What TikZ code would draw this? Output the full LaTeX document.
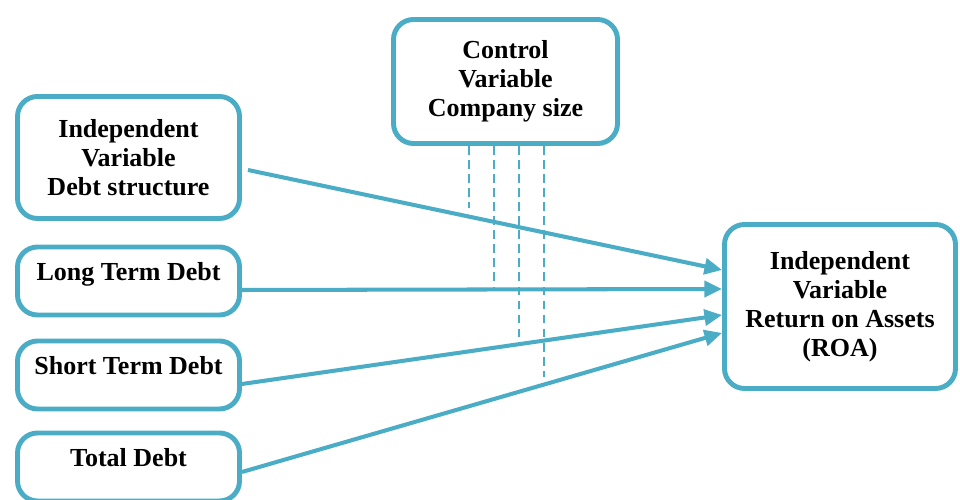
\documentclass[tikz,border=0pt]{standalone}
\usepackage{fontspec}
\setmainfont{Liberation Serif}
\usetikzlibrary{arrows.meta}
\definecolor{accentblue}{HTML}{4BACC6}

\begin{document}
\begin{tikzpicture}[auto,
    varbox/.style ={draw=accentblue, line width=2.8pt, rounded corners=0.4cm,
      align=center, font=\fontsize{14.8}{16.5}\selectfont\bfseries},
    single/.style ={varbox, minimum width=4.44cm, minimum height=1.36cm,
      text height=0.35cm, text depth=0.37cm},
    link/.style ={draw=accentblue, line width=2.3pt,
      -{Triangle[length=10pt,width=9pt]}},
    ctrldash/.style ={draw=accentblue, line width=0.8pt, dash pattern=on 5pt off 3pt}]
   \useasboundingbox (0,0) rectangle (19.2,10);
   \node[varbox, minimum width=4.48cm, minimum height=2.48cm] (ctrl) at (10.11,8.37)
     {Control\\Variable\\Company size};
   \node[varbox, minimum width=4.44cm, minimum height=2.44cm] (dsv) at (2.57,6.85)
     {Independent\\Variable\\Debt structure};
   \node[single] (ltd) at (2.57,4.38) {Long Term Debt};
   \node[single] (std) at (2.57,2.50) {Short Term Debt};
   \node[single] (tdb) at (2.57,0.66) {Total Debt};
   \node[varbox, minimum width=4.62cm, minimum height=3.28cm] (roa) at (16.80,3.87)
     {Independent\\Variable\\Return on Assets\\(ROA)};

   \coordinate (c1) at (9.38,5.84);
   \coordinate (c2) at (9.88,4.26);
   \coordinate (c3) at (10.38,3.20);
   \coordinate (c4) at (10.88,2.46);

   \draw[ctrldash] (ctrl.south -| c1) to (c1);
   \draw[ctrldash] (ctrl.south -| c2) to (c2);
   \draw[ctrldash] (ctrl.south -| c3) to (c3);
   \draw[ctrldash] (ctrl.south -| c4) to (c4);

   \draw[link] ([xshift=0.12cm,yshift=-0.25cm]dsv.east) to ([yshift=0.73cm]roa.west);
   \draw[link] ([yshift=-0.18cm]ltd.east) to ([yshift=0.35cm]roa.west);
   \draw[link] ([yshift=-0.18cm]std.east) to ([yshift=-0.17cm]roa.west);
   \draw[link] ([yshift=-0.10cm]tdb.east) to ([yshift=-0.53cm]roa.west);
\end{tikzpicture}
\end{document}
